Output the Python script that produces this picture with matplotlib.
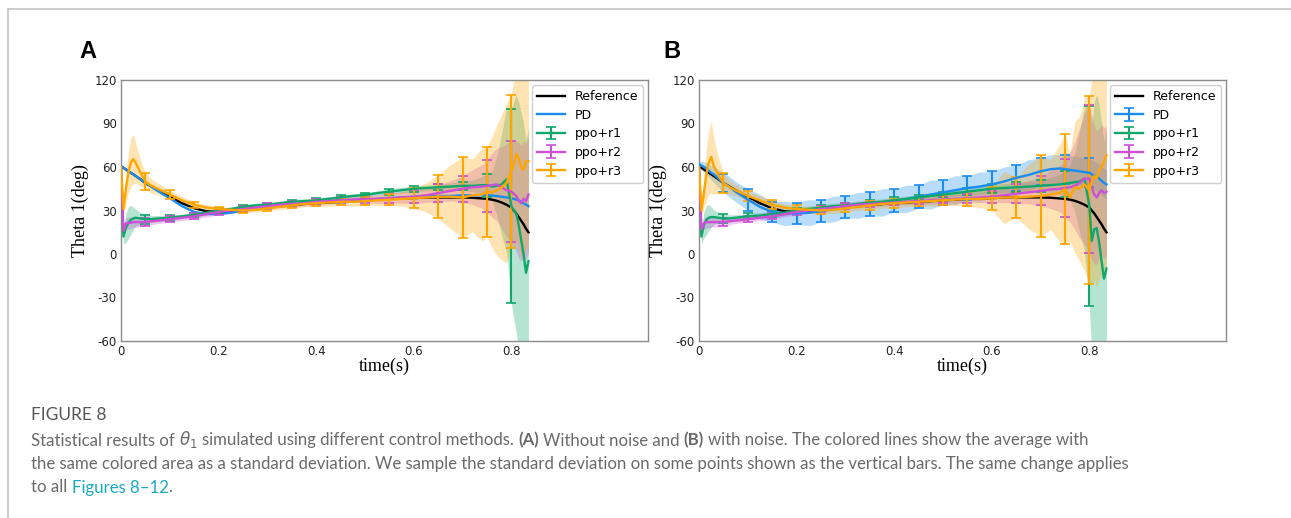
import numpy as np
import matplotlib
matplotlib.use('Agg')
import matplotlib.pyplot as plt
from matplotlib.lines import Line2D

W,H=1291,518
DPI=100
SERIF='Liberation Serif'
CAPTION_FONT='Lato'
CAPTION_COLOR='#6a6a6a'
LINK_COLOR='#1aa9c4'
BAND_ALPHA=0.3

C_REF='black'
C_PD='#1a8cf0'
C_R1='#10a86a'
C_R2='#cc4fd6'
C_R3='#ffa500'

# time axis (s)
T=[0,0.005,0.01,0.015,0.02,0.025,0.03,0.04,0.05,0.06,0.075,
   0.1,0.125,0.15,0.175,0.2,0.225,0.25,0.275,0.3,0.325,0.35,0.375,0.4,0.425,
   0.45,0.475,0.5,0.525,0.55,0.575,0.6,0.625,0.65,0.675,0.7,
   0.72,0.74,0.75,0.76,0.77,0.78,0.79,0.8,
   0.805,0.81,0.815,0.82,0.825,0.83,0.835]

# reference trajectory (same in both panels)
REF=[60.5,59.5,58.3,57.2,56,55,53.8,51.5,49,47,44,
     39.5,35,31.5,29.5,29,29.5,30.5,31.5,32,33,33.5,34.5,35,35.5,
     36,36.5,37,37.5,38,38.5,38.5,39,39,39,39,
     38.8,38.3,38,37.5,36.7,35.5,34,32,
     30,28,25.5,23,20.5,17.5,15]

# panel A (without noise)
PD_A=[60.5,59.5,58.3,57.2,56,55,53.8,51.5,49,47,43.5,
      38.5,33,29,27.5,27.5,28.5,30,31,32,33,34,35,35.5,36,
      36.5,37,37.5,38,38.5,39,39.5,40,40,40,40.5,
      40.5,40.5,40.5,40.3,40,39.5,39,38.5,
      38,37.5,37,36,35,34,33]
R1_A=[60,12,18,21.5,23.5,24.5,25,24.5,24,24,24.5,
      25,26,27,28.5,30,31,32.5,33.5,34,35,36,36.5,37,38,
      39,40,40.7,42,43,44,45,45.5,46,46.5,47,
      47,47.5,47.5,46.5,47,48,51.5,33,
      30,28,20,10,0,-13,-5]
R1_A_STD=[0,5,10,11,10,8,6,4,3,2.5,2,
          2,1.5,1.5,1.5,1.5,1.5,1.5,1.5,1.5,1.5,1.5,1.5,1.5,1.5,
          1.5,1.5,1.5,1.5,2,2,2,2,2,2.5,3,
          4,6,8,10,20,35,50,67,
          75,82,85,88,90,92,92]
R2_A=[60,16,21,21.5,21.5,22,22,22,22,22.5,23,
      24,25,26,27.5,29,30,31,32,33,34,34.5,35,36,36.5,
      37,37.5,38,38,38.5,39,39.5,40.5,42,43.5,45,
      46,46.5,47,47.5,48,46,44,43,
      41.5,40,37,35,38,36.5,41]
R2_A_STD=[0,3,4,4,4,3.5,3.5,3,3,2.5,2,
          2,2,2,2,2,2,2,2,2,2,2,2,2,2,
          2,2,2.5,3,3.5,4,4.5,5,6,7,9,
          12,15,18,22,25,28,32,35,
          37,38,40,40,40,40,40]
R3_A=[60,31,45,56,63,65.5,63,56,50,47.5,45,
      41,37,34,32,31,30.5,30,30.5,31.5,32.5,33.5,34.5,35,35.5,
      36,36,36.5,37,37.5,38,38.5,39,39.5,39.5,39,
      40.5,41,43,42.5,44,46,49,57,
      62,69,66,60,58,64,64]
R3_A_STD=[0,5,10,14,17,17,14,9,6,5,4,
          3,2.5,2,2,1.5,1.5,1.5,1.5,1.5,2,2,2,2,2.5,
          2.5,3,3,3.5,4,5,7,10,15,22,28,
          25,32,31,38,45,50,55,53,
          58,60,62,62,62,60,60]

# panel B (with noise)
PD_B=[62,61,60,59,57.5,56,55,52,49,47,43,
      37.5,32.5,29,28,28,28.5,29.5,31,32.5,33.5,34.5,35.5,37,38,
      39.5,41,42.5,44,45.5,46.5,48,50,52.5,54.5,57,
      58.5,59,58.5,58,57.5,57,56.5,56,
      55,54,53,52,50.5,49,48]
PD_B_STD=[2,3,3.5,4,4.5,5,5.5,6,6.5,7,7,
          7.5,8.5,7,8.5,7.5,9,7.5,9,7.5,9,8,9.5,8,9.5,
          8,10,8.5,10,8.5,10,9,10,9,10.5,9.5,
          10,9.5,10,10,10,10,10,10,
          10,10,10,10,10,10,10]
R1_B=[60,12,20,23.5,25,25.5,25.5,25,24.5,24.5,25,
      26,26.5,27.5,28.5,30,31,32,33,33.5,34.5,35.5,36,37,38,
      39,40,41,42,43,44,45,45.5,46,46.5,47,
      47.5,48,48.5,49,49.5,50,52,33,
      9,17,18,8,-5,-17,-10]
R1_B_STD=[0,5,9,10,9,7,5,3.5,3,2.5,2,
          2,2,2,2,2,2,2,2,2,2,2,2,2,2,
          2,2,2,2,2.5,2.5,3,3,3.5,3.5,4,
          5,7,9,12,20,35,50,69,
          80,88,92,95,95,95,95]
R2_B=[60,17,21,22,22,22,22,22,22,22.5,23,
      24,25,26,27.5,29,30,31,32,33,34,34.5,35,35.5,36,
      36.5,37,37.5,38,38.5,39,39.5,40.5,41.5,42.5,43.5,
      44.5,45,45.5,46,47,49,52,52,
      46,41,39,42,44,42,43]
R2_B_STD=[0,3,4,4,4,3.5,3.5,3,3,2.5,2,
          2,2,2,2,2,2,2,2,2,2,2,2,2,2,
          2,2.5,2.5,3,3,3.5,4,5,6.5,8,10,
          13,16,20,24,30,38,45,51,
          50,48,46,45,45,45,45]
R3_B=[60,30,42,55,63,67,61,54,49,46.5,44,
      40,37,34,32,31,30.5,30,30.5,31.5,32.5,33.5,34.5,35,35.5,
      36,36.5,37,37.5,38,38,38.5,39,39,39.5,40,
      41,42,45,39,46,45,48,44,
      50,54,52,58,60,64,68]
R3_B_STD=[0,5,10,18,22,25,20,12,7,5,4,
          3.5,3,3,2.5,2.5,2.5,2.5,2.5,2.5,2.5,3,3,3,3,
          3,3.5,3.5,4,5,6,8,18,14,22,28,
          24,34,38,30,45,50,60,65,
          70,72,75,75,75,75,75]

YTICKS=[-60,-30,0,30,60,90,120]
XTICKS=[0,0.2,0.4,0.6,0.8]
XTICK_LABELS=['0','0.2','0.4','0.6','0.8']

CAPTION_TITLE='FIGURE 8'
CAPTION_LINES=[
    [('Statistical results of',{}),('$\\theta_1$',{}),
     ('simulated using different control methods.',{}),
     ('(A)',{'weight':'bold'}),('Without noise and',{}),
     ('(B)',{'weight':'bold'}),
     ('with noise. The colored lines show the average with',{})],
    [('the same colored area as a standard deviation. We sample the standard '
      'deviation on some points shown as the vertical bars. The same change applies',{})],
    [('to all',{}),('Figures 8\u201312',{'color':LINK_COLOR}),('.',{'nospace':True})],
]


def draw_panel(ax,series):
    t=np.array(T)
    mask=np.isclose(np.round(t/0.05)*0.05,t)&(t>0)
    for label,mean,std,color,bars in series:
        if std is not None:
            m=np.array(mean); s=np.array(std)
            ax.fill_between(t,m-s,m+s,color=color,alpha=BAND_ALPHA,lw=0,zorder=1)
    for label,mean,std,color,bars in series:
        if bars:
            ax.errorbar(t,mean,yerr=std,errorevery=mask,color=color,lw=1.7,
                elinewidth=1.5,capsize=3.5,capthick=1.2,label=label,zorder=3)
        else:
            ax.plot(t,mean,color=color,lw=1.7,label=label,zorder=3)
    ax.set_xlim(0,1.08)
    ax.set_ylim(-60,120)
    ax.set_xticks(XTICKS)
    ax.set_xticklabels(XTICK_LABELS)
    ax.set_yticks(YTICKS)
    ax.tick_params(length=0,labelsize=8.5,pad=3,colors='#222222')
    for sp in ax.spines.values():
        sp.set_color('#8c8c8c')
        sp.set_linewidth(1.0)
    ax.set_ylabel('Theta 1(deg)',family=SERIF,fontsize=13)
    ax.set_xlabel('time(s)',family=SERIF,fontsize=13)
    ax.yaxis.set_label_coords(-0.061,0.5)
    ax.xaxis.set_label_coords(0.5,-0.063)
    leg=ax.legend(loc='upper right',fontsize=9,borderaxespad=0.4,
        handlelength=2.2,labelspacing=0.45,framealpha=1,fancybox=True)
    leg.get_frame().set_edgecolor('#d0d0d0')


def draw_runs(fig,x,y,runs,size,color):
    r=fig.canvas.get_renderer()
    probe=fig.text(0,0,'x x',fontsize=size,family=CAPTION_FONT)
    probe2=fig.text(0,0,'xx',fontsize=size,family=CAPTION_FONT)
    space=probe.get_window_extent(r).width-probe2.get_window_extent(r).width
    probe.remove(); probe2.remove()
    first=True
    for s,kw in runs:
        kw=dict(kw)
        nospace=kw.pop('nospace',False)
        if not first and not nospace:
            x+=space
        kw.setdefault('color',color)
        t=fig.text(x/W,1-y/H,s,fontsize=size,family=CAPTION_FONT,va='baseline',**kw)
        x+=t.get_window_extent(r).width
        first=False


fig=plt.figure(figsize=(W/DPI,H/DPI),dpi=DPI)
plt.rcParams['axes.unicode_minus']=False

axA=fig.add_axes([121/W,1-341/H,527/W,261/H])
axB=fig.add_axes([699/W,1-341/H,527/W,261/H])

draw_panel(axA,[
    ('Reference',REF,None,C_REF,False),
    ('PD',PD_A,None,C_PD,False),
    ('ppo+r1',R1_A,R1_A_STD,C_R1,True),
    ('ppo+r2',R2_A,R2_A_STD,C_R2,True),
    ('ppo+r3',R3_A,R3_A_STD,C_R3,True),
])
draw_panel(axB,[
    ('Reference',REF,None,C_REF,False),
    ('PD',PD_B,PD_B_STD,C_PD,True),
    ('ppo+r1',R1_B,R1_B_STD,C_R1,True),
    ('ppo+r2',R2_B,R2_B_STD,C_R2,True),
    ('ppo+r3',R3_B,R3_B_STD,C_R3,True),
])

fig.text(88/W,1-51/H,'A',fontsize=17,weight='bold',family='Liberation Sans',ha='center',va='center')
fig.text(672/W,1-51/H,'B',fontsize=17,weight='bold',family='Liberation Sans',ha='center',va='center')

# page border
fig.add_artist(Line2D([8/W,1],[1-9/H,1-9/H],transform=fig.transFigure,color='#c4c4c4',lw=1.2))
fig.add_artist(Line2D([8/W,8/W],[0,1-9/H],transform=fig.transFigure,color='#c4c4c4',lw=1.2))

fig.text(31/W,1-420.5/H,CAPTION_TITLE,fontsize=12.5,family=CAPTION_FONT,color='#555555',va='baseline')
for runs,yb in zip(CAPTION_LINES,[445.5,469,492.5]):
    draw_runs(fig,31,yb,runs,12.1,CAPTION_COLOR)

fig.savefig('out.png',dpi=DPI)
